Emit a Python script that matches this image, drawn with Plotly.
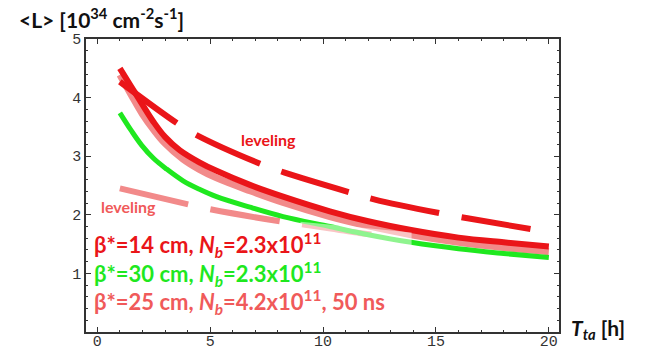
import plotly.graph_objects as go

# ---- data ----
red_x = [1, 1.5, 2, 2.5, 3, 3.66, 4.5, 5.28, 6.76, 8.23, 10.3, 12, 13.9, 16, 18, 20]
red_y = [4.50, 4.19, 3.88, 3.58, 3.33, 3.10, 2.90, 2.75, 2.51, 2.31, 2.06, 1.89, 1.74, 1.61, 1.53, 1.46]

pink_x = [1, 1.5, 2, 2.5, 3, 3.8, 4.5, 5.28, 6.76, 8.23, 10.3, 12, 13.9, 16, 18, 20]
pink_y = [4.39, 4.05, 3.72, 3.45, 3.22, 2.95, 2.78, 2.63, 2.41, 2.21, 1.97, 1.81, 1.66, 1.53, 1.44, 1.37]

green_x = [1, 1.5, 1.96, 2.5, 3.07, 3.8, 4.5, 5.28, 6.76, 8.23, 10.3, 12, 13.9, 16, 18, 20]
green_y = [3.74, 3.44, 3.19, 2.96, 2.78, 2.58, 2.44, 2.31, 2.13, 1.97, 1.80, 1.66, 1.53, 1.42, 1.34, 1.27]

red_lev_x = [1, 3.58, 4.4, 7.35, 8.3, 11.3, 12.3, 15.4, 16.4, 19.6]
red_lev_y = [4.27, 3.55, 3.36, 2.85, 2.72, 2.37, 2.26, 2.01, 1.94, 1.73]

pink_lev_x = [1, 4.1, 5.06, 8.23, 9.2, 11.6, 12.3]
pink_lev_y = [2.45, 2.17, 2.09, 1.88, 1.83, 1.69, 1.66]

x_ticks = [0, 5, 10, 15, 20]
y_ticks = [1, 2, 3, 4, 5]

RED = "#ea1519"
PINK = "#f28a8a"
PINK_TXT = "#f05a5a"
GREEN = "#1fe81f"
AXC = "#333333"

fig = go.Figure()
fig.add_trace(go.Scatter(x=pink_x, y=pink_y, mode="lines", line=dict(color=PINK, width=7, shape="spline")))
fig.add_trace(go.Scatter(x=pink_lev_x, y=pink_lev_y, mode="lines",
                         line=dict(color=PINK, width=6, shape="spline", dash="70px,23px")))
fig.add_trace(go.Scatter(x=green_x, y=green_y, mode="lines", line=dict(color=GREEN, width=5, shape="spline")))
fig.add_trace(go.Scatter(x=red_x, y=red_y, mode="lines", line=dict(color=RED, width=6, shape="spline")))
fig.add_trace(go.Scatter(x=red_lev_x, y=red_lev_y, mode="lines",
                         line=dict(color=RED, width=6, shape="spline", dash="70px,23px")))

# translucent patch seen in the reference
fig.add_shape(type="path", path="M 9.0 1.88 L 13.92 1.70 L 13.92 1.40 L 9.0 1.40 Z",
              xref="x", yref="y", fillcolor="rgba(255,255,255,0.5)", line=dict(width=0), layer="above")

FONT = "Lato"
ann = []
ann.append(dict(text="<b>&lt;L&gt; [10<sup>34</sup> cm<sup>-2</sup>s<sup>-1</sup>]</b>", xref="paper", yref="paper",
                x=-0.146, y=1.072, xanchor="left", yanchor="middle", showarrow=False,
                font=dict(family=FONT, size=21, color="#111111")))
ann.append(dict(text="<b><i>T<sub>ta</sub></i> [h]</b>", xref="paper", yref="paper",
                x=1.021, y=0.01, xanchor="left", yanchor="middle", showarrow=False,
                font=dict(family=FONT, size=21, color="#111111")))
ann.append(dict(text="<b>leveling</b>", x=7.6, y=3.28, xref="x", yref="y", showarrow=False,
                font=dict(family=FONT, size=16, color=RED)))
ann.append(dict(text="<b>leveling</b>", x=1.4, y=2.14, xref="x", yref="y", showarrow=False,
                font=dict(family=FONT, size=16, color=PINK_TXT)))
legend_lines = [
    ("<b>β*=14 cm, <i>N<sub>b</sub></i>=2.3x10<sup>11</sup></b>", 1.48, RED),
    ("<b>β*=30 cm, <i>N<sub>b</sub></i>=2.3x10<sup>11</sup></b>", 0.99, GREEN),
    ("<b>β*=25 cm, <i>N<sub>b</sub></i>=4.2x10<sup>11</sup>, 50 ns</b>", 0.52, PINK_TXT),
]
for t, yy, c in legend_lines:
    ann.append(dict(text=t, x=-0.22, y=yy, xref="x", yref="y", xanchor="left", yanchor="middle",
                    showarrow=False, font=dict(family=FONT, size=22, color=c)))

fig.update_layout(
    width=647, height=350,
    margin=dict(l=86, r=88, t=39, b=18),
    paper_bgcolor="white", plot_bgcolor="white",
    showlegend=False,
    annotations=ann,
    xaxis=dict(range=[-0.5, 20.45], tickvals=x_ticks, ticks="inside", ticklen=5, tickwidth=1,
               tickcolor=AXC, showline=True, linecolor=AXC, linewidth=1.5, mirror="allticks",
               showgrid=False, zeroline=False, automargin=False, ticklabelstandoff=-6,
               tickfont=dict(family="Liberation Mono", size=15, color=AXC),
               minor=dict(ticks="inside", ticklen=2.5, dtick=1, tick0=0, tickcolor=AXC, showgrid=False)),
    yaxis=dict(range=[0, 5], tickvals=y_ticks, ticks="inside", ticklen=5, tickwidth=1,
               tickcolor=AXC, showline=True, linecolor=AXC, linewidth=1.5, mirror="allticks",
               showgrid=False, zeroline=False, automargin=False,
               tickfont=dict(family="Liberation Mono", size=15, color=AXC),
               minor=dict(ticks="inside", ticklen=2.5, dtick=0.2, tick0=0, tickcolor=AXC, showgrid=False)),
)

fig.write_html("out.html")
